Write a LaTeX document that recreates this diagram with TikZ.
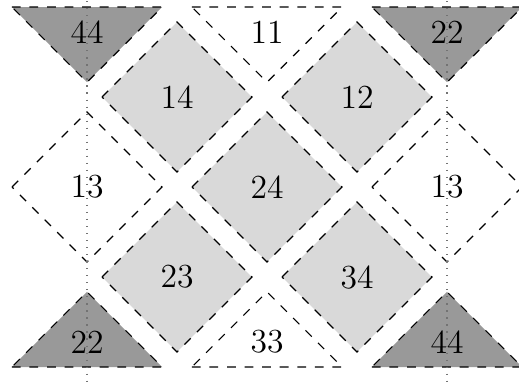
\documentclass[tikz,border=0pt]{standalone}
\usepackage{tikz}
\tikzset{
    losclaro/.style  = {draw, dashed, fill=black!15},
    losbranco/.style = {draw, dashed, fill=white},
    triescuro/.style = {draw, dashed, fill=black!40},
    tribranco/.style = {draw, dashed, fill=white},
    rotulo/.style    = {font=\fontsize{11.5}{14}\selectfont},
    eixo/.style      = {dotted, black!55},
}

\begin{document}
\begin{tikzpicture}[x=1.08cm, y=1.08cm]
        \useasboundingbox (-2.967,-2.222) rectangle (2.8,2.078);
        % triangulos de cima
        \draw[triescuro] (-2.835,2) -- (-1.165,2) -- (-2,1.165) -- cycle;
        \node[rotulo] (t44a) at (-2,1.72) {44};
        \draw[tribranco] (-0.835,2) -- (0.835,2) -- (0,1.165) -- cycle;
        \node[rotulo] (t11) at (0,1.72) {11};
        \draw[triescuro] (1.165,2) -- (2.835,2) -- (2,1.165) -- cycle;
        \node[rotulo] (t22a) at (2,1.72) {22};
        % losangos
        \draw[losclaro] (-1,1) +(-0.833,0) -- +(0,0.833) -- +(0.833,0) -- +(0,-0.833) -- cycle;
        \node[rotulo] (l14) at (-1,1) {14};
        \draw[losclaro] (1,1) +(-0.833,0) -- +(0,0.833) -- +(0.833,0) -- +(0,-0.833) -- cycle;
        \node[rotulo] (l12) at (1,1) {12};
        \draw[losbranco] (-2,0) +(-0.833,0) -- +(0,0.833) -- +(0.833,0) -- +(0,-0.833) -- cycle;
        \node[rotulo] (l13a) at (-2,0) {13};
        \draw[losclaro] (0,0) +(-0.833,0) -- +(0,0.833) -- +(0.833,0) -- +(0,-0.833) -- cycle;
        \node[rotulo] (l24) at (0,0) {24};
        \draw[losbranco] (2,0) +(-0.833,0) -- +(0,0.833) -- +(0.833,0) -- +(0,-0.833) -- cycle;
        \node[rotulo] (l13b) at (2,0) {13};
        \draw[losclaro] (-1,-1) +(-0.833,0) -- +(0,0.833) -- +(0.833,0) -- +(0,-0.833) -- cycle;
        \node[rotulo] (l23) at (-1,-1) {23};
        \draw[losclaro] (1,-1) +(-0.833,0) -- +(0,0.833) -- +(0.833,0) -- +(0,-0.833) -- cycle;
        \node[rotulo] (l34) at (1,-1) {34};
        % triangulos de baixo
        \draw[triescuro] (-2.835,-2) -- (-1.165,-2) -- (-2,-1.165) -- cycle;
        \node[rotulo] (t22b) at (-2,-1.72) {22};
        \draw[tribranco] (-0.835,-2) -- (0.835,-2) -- (0,-1.165) -- cycle;
        \node[rotulo] (t33) at (0,-1.72) {33};
        \draw[triescuro] (1.165,-2) -- (2.835,-2) -- (2,-1.165) -- cycle;
        \node[rotulo] (t44b) at (2,-1.72) {44};
        % eixos pontilhados
        \draw[eixo] (-2,2.3) -- (-2,-2.18);
        \draw[eixo] (2,2.3) -- (2,-2.18);
\end{tikzpicture}
\end{document}
